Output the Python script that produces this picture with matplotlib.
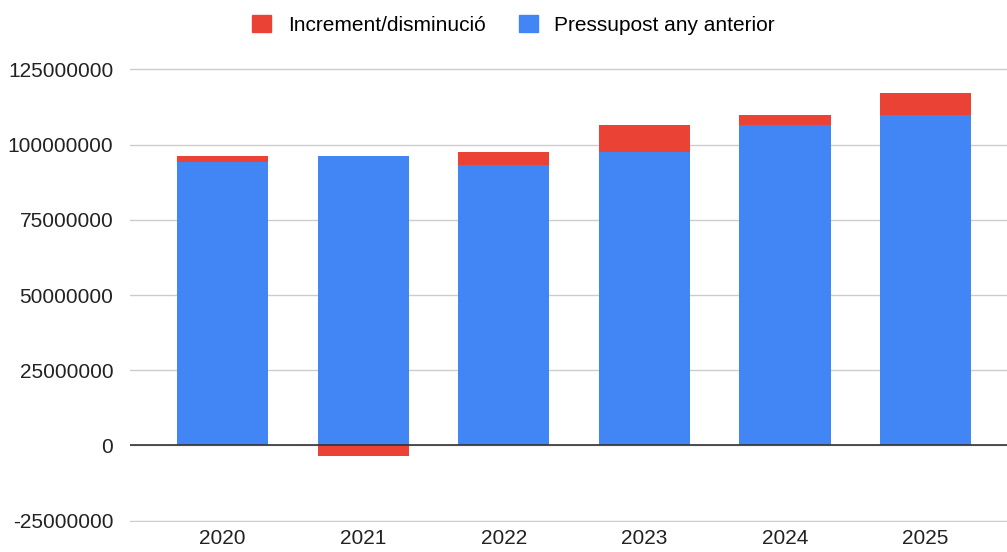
import numpy as np
import matplotlib
matplotlib.use('Agg')
import matplotlib.pyplot as plt
from matplotlib.patches import Patch

years = ['2020', '2021', '2022', '2023', '2024', '2025']
previous = [94.1e6, 96.3e6, 93.3e6, 97.5e6, 106.4e6, 110.0e6]
change = [2.2e6, -3.4e6, 4.1e6, 8.9e6, 3.5e6, 7.1e6]
yticks = [-25000000, 0, 25000000, 50000000, 75000000, 100000000, 125000000]

blue = '#4285f4'
red = '#ea4335'

plt.rcParams['font.family'] = ['Liberation Sans', 'DejaVu Sans']

fig = plt.figure(figsize=(10.07, 5.52), dpi=100)
ax = fig.add_axes([0.129, 0.054, 0.871, 0.823])

x = np.arange(len(years))
prev = np.array(previous)
chg = np.array(change)
red_bottom = np.where(chg >= 0, prev, 0)
ax.bar(x, prev, width=0.65, color=blue, zorder=2)
ax.bar(x, chg, width=0.65, bottom=red_bottom, color=red, zorder=2)

ax.set_ylim(-25500000, 125500000)
ax.set_xlim(-0.66, 5.58)
ax.set_yticks(yticks)
ax.set_yticklabels([str(v) for v in yticks])
ax.set_xticks(x)
ax.set_xticklabels(years)
ax.grid(axis='y', color='#cccccc', linewidth=1, zorder=0)
ax.axhline(0, color='#333333', linewidth=1.2, zorder=3)
for s in ax.spines.values():
    s.set_visible(False)
ax.tick_params(axis='both', length=0, labelsize=15, colors='#222222')
ax.tick_params(axis='y', pad=12)
ax.tick_params(axis='x', pad=5)

handles = [Patch(color=red, label='Increment/disminució'),
           Patch(color=blue, label='Pressupost any anterior')]
fig.legend(handles=handles, loc='center', bbox_to_anchor=(0.51, 0.955), ncol=2,
           frameon=False, fontsize=15, handlelength=0.9, handleheight=0.9,
           columnspacing=1.6, handletextpad=0.8)

fig.savefig('out.png', dpi=100)
